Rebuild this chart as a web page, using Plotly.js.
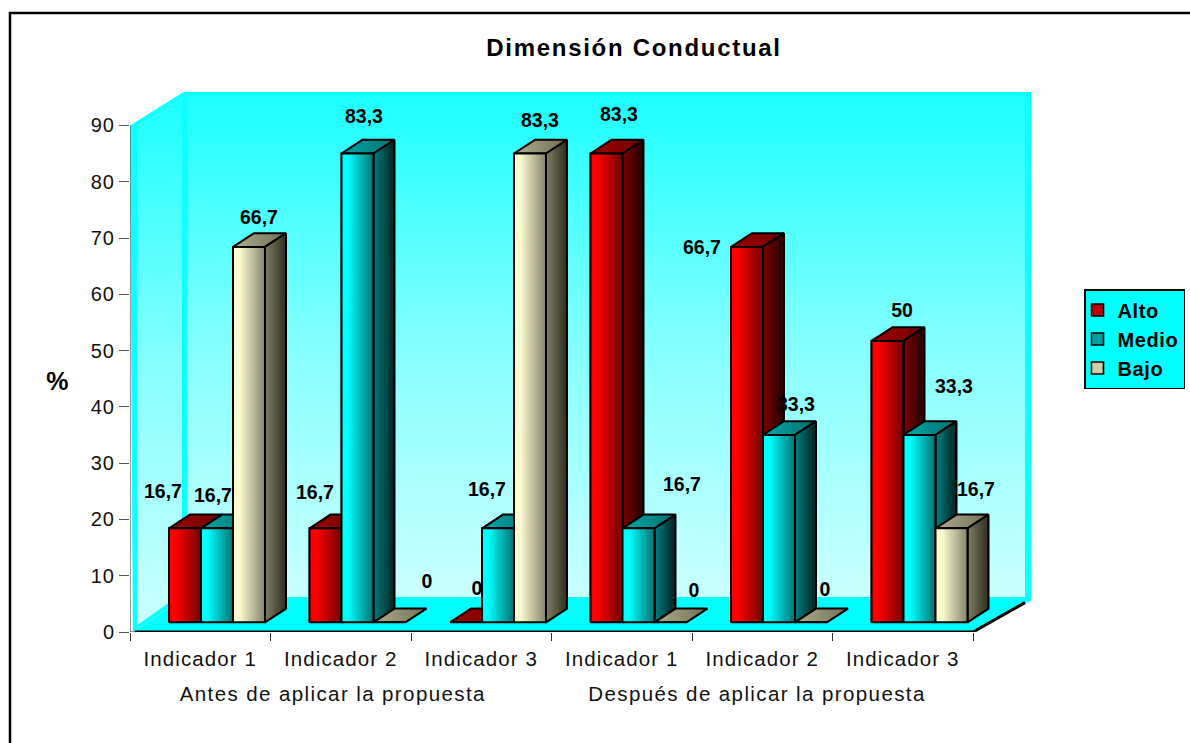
<!DOCTYPE html>
<html><head><meta charset="utf-8">
<script src="https://cdn.plot.ly/plotly-3.0.1.min.js"></script>
<style>
html,body{margin:0;padding:0;background:#fff;overflow:hidden}
.xtick text{letter-spacing:1.1px}
.ytick text{letter-spacing:1px}
.annotation text{letter-spacing:1.4px}
.legendtext{letter-spacing:.6px}
.gtitle{letter-spacing:1.7px}
</style></head><body>
<div id="chart" style="width:1190px;height:743px"></div>
<script>
// ---- data ----
const categories = ['Indicador 1','Indicador 2','Indicador 3','Indicador 1','Indicador 2','Indicador 3'];
const groupLabels = ['Antes de aplicar la propuesta','Después de aplicar la propuesta'];
const seriesNames = ['Alto','Medio','Bajo'];
const alto  = [16.7,16.7,0,83.3,66.7,50];
const medio = [16.7,83.3,16.7,16.7,33.3,33.3];
const bajo  = [66.7,0,83.3,0,0,16.7];
const yTicks = [0,10,20,30,40,50,60,70,80,90];

// ---- per-label nudges in pixels (label position relative to top-centre of bar) ----
const altoDx  = [-22,-10.5,11,12.5,-45,14.5],  altoUp  = [35,34,32,37.5,-2,29];
const medioDx = [-4,6.5,-11,43.5,17,34.5],     medioUp = [31,35.5,37,42,29,47];
const bajoDx  = [10,37.5,10,23.5,14,24.5],     bajoUp  = [28,39,31.5,30,31,37];

// ---- styles ----
const frontGrad = [['#ff0000','#700000'],['#00ffff','#007070'],['#fdfbd0','#85836a']];
const sideGrad  = [['#800000','#200000'],['#008080','#002020'],['#807e64','#2e2d20']];
const topGrad   = [['#a00000','#700000'],['#00a8a8','#007070'],['#b0ae90','#706e54']];
const legendCol = ['#c00000','#00a0a0','#cfcdaa'];
const FONT = '"Liberation Sans", Arial, sans-serif';

// ---- geometry: scales ----
const pxX = 140.5, pxY = 5.628;          // pixels per axis unit
const L = 130, T = 92, B = 632, R = 1031;
const xMax = (R-L)/pxX, yMax = (B-T)/pxY;
const start = 39/pxX, barW = 32/pxX;     // first bar offset and bar width
const base = 9.7/pxY;                    // bars stand on the floor, off the front edge
const bdx = 21/pxX, bdy = 13.7/pxY;      // bar depth
const wdx = 56/pxX, wdy = 35/pxY;        // floor depth
const data = [];
const hg = (c,a,b,hold)=>({type:'horizontal',start:a,stop:b,colorscale:hold?[[0,c[0]],[hold,c[0]],[1,c[1]]]:[[0,c[0]],[1,c[1]]]});
function poly(xs,ys,opt){
  data.push(Object.assign({type:'scatter',mode:'lines',x:xs.concat(xs[0]),y:ys.concat(ys[0]),fill:'toself',
    line:{width:0,color:'rgba(0,0,0,0)'},hoverinfo:'skip',showlegend:false,cliponaxis:false},opt||{}));
}
function line(xs,ys,color,width){
  data.push({type:'scatter',mode:'lines',x:xs,y:ys,line:{color:color,width:width},hoverinfo:'skip',showlegend:false,cliponaxis:false});
}
const CY='#0dffff';
const wallGrad = {type:'vertical',colorscale:[[0,'#caffff'],[0.5,'#85ffff'],[1,'#1cffff']]};
// back wall frame + inner gradient
poly([wdx,xMax,xMax,wdx],[wdy-0.6,wdy-0.6,90+wdy,90+wdy],{fillcolor:CY});
poly([wdx+0.01,xMax-6/pxX,xMax-6/pxX,wdx+0.01],[wdy,wdy,90+wdy-1,90+wdy-1],{fillcolor:CY,fillgradient:wallGrad});
// left wall frame + inner gradient
poly([0,wdx,wdx,0.02],[90,90+wdy,wdy,0],{fillcolor:CY});
poly([7/pxX,wdx-4/pxX,wdx-4/pxX,7/pxX],[90,90+wdy-1,wdy+0.6,1.2],{fillcolor:CY,fillgradient:wallGrad});
// floor
poly([0.02,wdx,xMax,xMax-1/pxX,6],[0,wdy,wdy,wdy-0.7,0],{fillcolor:'#00ffff'});
// floor edges and axis lines
line([0,0],[0,90],'#555',1.2);
line([0,0.035],[0,0],'#555',1.2);
line([0.035,6],[0,0],'#000',3);
line([6,6+wdx-4/pxX],[0,wdy-1],'#000',3);

// ---- bars ----
const series = [alto,medio,bajo];
const edge = {color:'#000',width:2};
// depth faces, left to right
categories.forEach((c,i)=>{
  series.forEach((vals,s)=>{
    const x0 = i+start+s*barW, x1 = x0+barW, v = vals[i], y = base+v;
    poly([x0,x1,x1+bdx,x0+bdx],[y,y,y+bdy,y+bdy],{line:edge,fillcolor:topGrad[s][1],fillgradient:hg(topGrad[s],x0,x1+bdx)});
    if(v>0) poly([x1,x1+bdx,x1+bdx,x1],[base,base+bdy,y+bdy,y],{line:edge,fillcolor:sideGrad[s][1],fillgradient:hg(sideGrad[s],x1,x1+bdx)});
  });
});
// real bar traces (front faces) on the overlay subplot
series.forEach((vals,s)=>{
  data.push({type:'bar',name:seriesNames[s],legendgroup:seriesNames[s],xaxis:'x2',yaxis:'y2',
    x:categories.map((c,i)=>i+start+s*barW+barW/2),y:vals,base:vals.map(()=>base),width:barW,
    marker:{color:legendCol[s],line:{color:'#000',width:1.6}},hovertemplate:seriesNames[s]+': %{y}<extra></extra>'});
});
// gradient on the bar fronts
categories.forEach((c,i)=>{
  series.forEach((vals,s)=>{
    const x0 = i+start+s*barW, x1 = x0+barW, v = vals[i], y = base+v;
    if(v>0) poly([x0,x1,x1,x0],[base,base,y,y],{xaxis:'x2',yaxis:'y2',line:edge,fillcolor:frontGrad[s][1],fillgradient:hg(frontGrad[s],x0,x1,0.2)});
  });
});
// data labels
const dxs=[altoDx,medioDx,bajoDx], ups=[altoUp,medioUp,bajoUp];
series.forEach((vals,s)=>{
  data.push({type:'scatter',mode:'text',xaxis:'x2',yaxis:'y2',showlegend:false,hoverinfo:'skip',cliponaxis:false,
    x:vals.map((v,i)=>i+start+s*barW+barW/2+dxs[s][i]/pxX),
    y:vals.map((v,i)=>base+v+ups[s][i]/pxY),
    text:vals.map(v=>String(v).replace('.',',')),textposition:'middle center',
    textfont:{family:FONT,size:19.5,color:'#000',weight:700}});
});

const paperX = px => (px-L)/(R-L), paperY = py => (B-py)/(B-T);
const layout = {
  width:1190,height:743,autosize:false,
  margin:{l:L,r:1190-R,t:T,b:743-B,pad:0,autoexpand:false},
  paper_bgcolor:'#fff',plot_bgcolor:'rgba(0,0,0,0)',
  title:{text:'Dimensión Conductual',font:{family:FONT,size:24,color:'#000',weight:700},
    xref:'paper',x:paperX(634),xanchor:'center',yref:'container',y:1-48/743,yanchor:'middle'},
  barmode:'overlay',
  xaxis:{range:[0,xMax],tickmode:'array',tickvals:categories.map((c,i)=>i+0.5),ticktext:categories,ticks:'',
    showgrid:false,zeroline:false,showline:false,tickfont:{family:FONT,size:20.5,color:'#111'},ticklabelstandoff:12,tickangle:0,
    minor:{ticks:'outside',tickvals:[0,1,2,3,4,5,6],ticklen:8,tickcolor:'#333',tickwidth:1.2,showgrid:false}},
  yaxis:{range:[0,yMax],tickmode:'array',tickvals:yTicks,ticks:'outside',ticklen:10,tickcolor:'#555',tickwidth:1.2,
    showgrid:false,zeroline:false,showline:false,tickfont:{family:FONT,size:20,color:'#111'}},
  xaxis2:{range:[0,xMax],overlaying:'x',anchor:'y2',visible:false},
  yaxis2:{range:[0,yMax],overlaying:'y',anchor:'x2',visible:false},
  legend:{x:paperX(1084),xanchor:'left',y:paperY(289),yanchor:'top',bgcolor:'#00ffff',bordercolor:'#000',borderwidth:1.5,
    indentation:-8,font:{family:FONT,size:20,color:'#000',weight:700},tracegroupgap:15,traceorder:'normal',itemclick:false,itemdoubleclick:false},
  showlegend:true,
  shapes:[{type:'rect',xref:'paper',yref:'paper',x0:paperX(10),x1:paperX(1200),y0:paperY(760),y1:paperY(13),
    line:{color:'#000',width:2.5},fillcolor:'rgba(0,0,0,0)',layer:'below'}],
  annotations:[
    {text:groupLabels[0],xref:'x',yref:'paper',x:(332.5-L)/pxX,y:paperY(694),yanchor:'middle',xanchor:'center',showarrow:false,font:{family:FONT,size:20.5,color:'#111'}},
    {text:groupLabels[1],xref:'x',yref:'paper',x:(757-L)/pxX,y:paperY(694),yanchor:'middle',xanchor:'center',showarrow:false,font:{family:FONT,size:20.5,color:'#111'}},
    {text:'%',xref:'paper',yref:'paper',x:paperX(58),y:paperY(381),yanchor:'middle',xanchor:'center',showarrow:false,font:{family:FONT,size:25,color:'#000',weight:700}}
  ]
};
Plotly.newPlot('chart',data,layout,{displayModeBar:false});
</script></body></html>
